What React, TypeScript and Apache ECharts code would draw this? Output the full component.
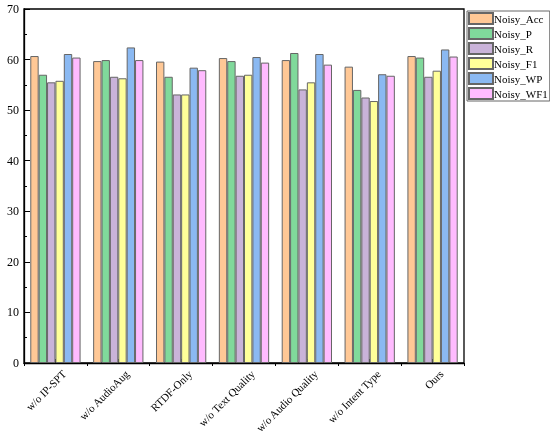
import React, { useEffect, useRef } from "react";
import * as echarts from "echarts";

const categories = [
  "w/o IP-SPT",
  "w/o AudioAug",
  "RTDF-Only",
  "w/o Text Quality",
  "w/o Audio Quality",
  "w/o Intent Type",
  "Ours",
];
const seriesNames = ["Noisy_Acc", "Noisy_P", "Noisy_R", "Noisy_F1", "Noisy_WP", "Noisy_WF1"];
const noisyAcc = [60.7, 59.7, 59.6, 60.3, 59.9, 58.6, 60.7];
const noisyP = [57.0, 59.9, 56.6, 59.7, 61.3, 54.0, 60.4];
const noisyR = [55.5, 56.6, 53.1, 56.8, 54.1, 52.5, 56.6];
const noisyF1 = [55.8, 56.3, 53.1, 57.0, 55.5, 51.8, 57.8];
const noisyWP = [61.1, 62.4, 58.4, 60.5, 61.1, 57.1, 62.0];
const noisyWF1 = [60.4, 59.9, 57.9, 59.4, 59.0, 56.8, 60.6];
const yTicks = { min: 0, max: 70, interval: 10 };

const colors = ["#FFC896", "#80D99B", "#C9B3D9", "#FFFF99", "#8BB9F2", "#FFBBFF"];
const FONT = "'Liberation Serif', 'Times New Roman', serif";

export default function App() {
  const ref = useRef<HTMLDivElement>(null);
  useEffect(() => {
    const chart = echarts.init(ref.current!, null, { renderer: "svg" });
    const data = [noisyAcc, noisyP, noisyR, noisyF1, noisyWP, noisyWF1];
    chart.setOption({
      animation: false,
      textStyle: { fontFamily: FONT },
      grid: {
        left: 24,
        right: 86,
        top: 9,
        bottom: 71,
        containLabel: false,
        outerBoundsMode: "none",
        show: true,
        borderColor: "#000",
        borderWidth: 1.3,
        backgroundColor: "transparent",
      },
      legend: {
        orient: "vertical",
        left: 467,
        top: 11,
        icon: "rect",
        itemWidth: 24,
        itemHeight: 11,
        itemGap: 2,
        padding: [1, 2, 1, 1],
        borderColor: "#666",
        borderWidth: 1,
        textStyle: { fontFamily: FONT, fontSize: 11, color: "#000", padding: [0, 0, 0, -4] },
        data: seriesNames,
      },
      xAxis: [
        {
          type: "category",
          data: categories,
          position: "bottom",
          axisLine: { lineStyle: { color: "#000", width: 1.3 } },
          axisTick: { show: true, inside: false, length: 3, interval: 0, lineStyle: { color: "#000" } },
          axisLabel: {
            interval: 0,
            rotate: 45,
            margin: 10,
            verticalAlign: "top",
            padding: [0, -7, 0, 0],
            fontFamily: FONT,
            fontSize: 11,
            color: "#000",
          },
          splitLine: { show: false },
        },
        {
          type: "category",
          data: categories,
          position: "bottom",
          axisLine: { show: false },
          axisTick: { show: true, inside: true, alignWithLabel: true, length: 4, interval: 0, lineStyle: { color: "#000" } },
          axisLabel: { show: false },
          splitLine: { show: false },
        },
      ],
      yAxis: {
        type: "value",
        min: yTicks.min,
        max: yTicks.max,
        interval: yTicks.interval,
        axisLine: { show: true, lineStyle: { color: "#000", width: 1.3 } },
        axisTick: { show: true, inside: true, length: 6, lineStyle: { color: "#000" } },
        minorTick: { show: true, splitNumber: 2, length: 3, lineStyle: { color: "#000" } },
        axisLabel: { margin: 5, fontFamily: FONT, fontSize: 12, color: "#000" },
        splitLine: { show: false },
      },
      series: seriesNames.map((name, i) => ({
        name,
        type: "bar",
        xAxisIndex: 0,
        data: data[i],
        barGap: "0%",
        barCategoryGap: "20%",
        itemStyle: { color: colors[i], borderColor: "#666", borderWidth: 1 },
      })),
    });
    return () => chart.dispose();
  }, []);
  return <div ref={ref} style={{ position: "fixed", left: 0, top: 0, width: 550, height: 434 }} />;
}
